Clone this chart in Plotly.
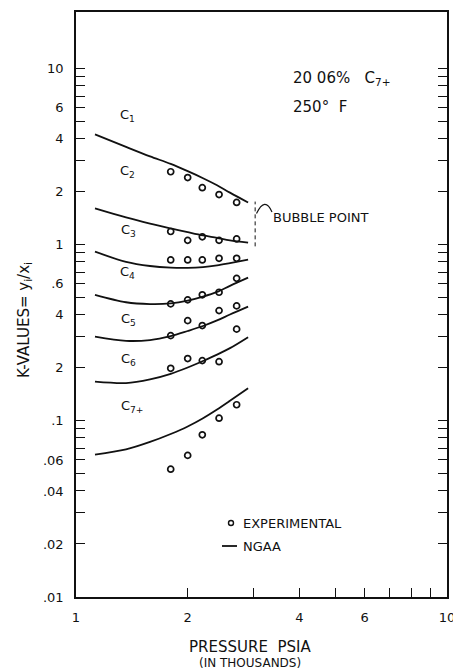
import math
import plotly.graph_objects as go

# ---------------- data ----------------
# NGAA correlation curves, pressure in thousands psia
ngaa_pressure = [1.125, 1.364, 1.583, 1.80, 2.00, 2.20, 2.40, 2.60, 2.91]
ngaa_c1 = [4.24, 3.60, 3.18, 2.88, 2.62, 2.39, 2.18, 1.98, 1.74]
ngaa_c2 = [1.61, 1.43, 1.32, 1.24, 1.18, 1.13, 1.095, 1.06, 1.03]
ngaa_c3 = [0.915, 0.80, 0.758, 0.742, 0.740, 0.748, 0.765, 0.788, 0.824]
ngaa_c4 = [0.520, 0.472, 0.461, 0.465, 0.482, 0.508, 0.540, 0.585, 0.651]
ngaa_c5 = [0.301, 0.285, 0.288, 0.303, 0.324, 0.346, 0.372, 0.402, 0.446]
ngaa_c6 = [0.167, 0.164, 0.172, 0.185, 0.201, 0.219, 0.238, 0.259, 0.299]
ngaa_c7 = [0.0643, 0.0689, 0.0760, 0.0843, 0.0930, 0.1036, 0.1161, 0.1301, 0.1534]

# Experimental K-values
exp_pressure = [1.80, 2.00, 2.19, 2.43, 2.71]
exp_c1 = [2.60, 2.41, 2.11, 1.93, 1.74]
exp_c2 = [1.19, 1.06, 1.11, 1.06, 1.08]
exp_c3 = [0.821, 0.821, 0.821, 0.838, 0.838]
exp_c4 = [0.462, 0.487, 0.520, 0.538, 0.645]
exp_c5 = [0.305, 0.371, 0.348, 0.423, 0.450]
exp_c6 = [0.199, 0.226, 0.220, 0.217, 0.332]
exp_c7 = [0.0532, 0.0637, 0.0834, 0.1036, 0.1235]

component_labels = ["C<sub>1</sub>", "C<sub>2</sub>", "C<sub>3</sub>", "C<sub>4</sub>",
                    "C<sub>5</sub>", "C<sub>6</sub>", "C<sub>7+</sub>"]

bubble_point_pressure = 3.04
bubble_point_k_range = [0.98, 1.76]

x_tick_values = [1, 2, 4, 6, 10]
x_tick_labels = ["1", "2", "4", "6", "10"]
x_minor_ticks = [3, 5, 7, 8, 9]

y_tick_values = [0.01, 0.02, 0.04, 0.06, 0.1, 0.2, 0.4, 0.6, 1, 2, 4, 6, 10]
y_tick_labels = [".01", ".02", ".04", ".06", ".1", "2", "4", ".6", "1", "2", "4", "6", "10"]
y_minor_ticks = [0.03, 0.05, 0.07, 0.08, 0.09, 0.3, 0.5, 0.7, 0.8, 0.9,
                 3, 5, 7, 8, 9]

# ---------------- layout geometry ----------------
W, H = 453, 670
ML, MR, MT, MB = 76, 6, 12, 73
PW, PH = W - ML - MR, H - MT - MB
FONT = "DejaVu Sans"
INK = "#111111"


def paper(xp, yp):
    return (xp - ML) / PW, (H - MB - yp) / PH


fig = go.Figure()

ngaa_series = [ngaa_c1, ngaa_c2, ngaa_c3, ngaa_c4, ngaa_c5, ngaa_c6, ngaa_c7]
exp_series = [exp_c1, exp_c2, exp_c3, exp_c4, exp_c5, exp_c6, exp_c7]

for name, ys in zip(component_labels, ngaa_series):
    fig.add_trace(go.Scatter(x=ngaa_pressure, y=ys, mode="lines",
                             line=dict(color=INK, width=1.8, shape="spline", smoothing=0.9),
                             name="NGAA " + name, showlegend=False, hoverinfo="skip"))

for name, ys in zip(component_labels, exp_series):
    fig.add_trace(go.Scatter(x=exp_pressure, y=ys, mode="markers",
                             marker=dict(symbol="circle-open", size=6, color=INK,
                                         line=dict(width=1.7, color=INK)),
                             name="Experimental " + name, showlegend=False))

fig.add_trace(go.Scatter(x=[bubble_point_pressure, bubble_point_pressure],
                         y=bubble_point_k_range, mode="lines",
                         line=dict(color=INK, width=1, dash="4px,3px"),
                         showlegend=False, hoverinfo="skip"))

annotations = []

# component labels
label_pos = [(118, 115), (118, 171), (119, 230), (118, 272), (119, 319), (119, 359), (119, 406)]
for txt, (xp, yp) in zip(component_labels, label_pos):
    px_, py_ = paper(xp, yp)
    annotations.append(dict(x=px_, y=py_, xref="paper", yref="paper", text=txt,
                            showarrow=False, xanchor="left", yanchor="middle",
                            font=dict(family=FONT, size=13, color=INK)))

# header text
px_, py_ = paper(291, 78)
annotations.append(dict(x=px_, y=py_, xref="paper", yref="paper",
                        text="20 06%\u00a0\u00a0 C<sub>7+</sub>", showarrow=False,
                        xanchor="left", yanchor="middle",
                        font=dict(family=FONT, size=15, color=INK)))
px_, py_ = paper(291, 107)
annotations.append(dict(x=px_, y=py_, xref="paper", yref="paper",
                        text="250°\u00a0\u00a0F", showarrow=False,
                        xanchor="left", yanchor="middle",
                        font=dict(family=FONT, size=15, color=INK)))

# bubble point label
px_, py_ = paper(271, 218)
annotations.append(dict(x=px_, y=py_, xref="paper", yref="paper",
                        text="BUBBLE POINT", showarrow=False,
                        xanchor="left", yanchor="middle",
                        font=dict(family=FONT, size=13, color=INK)))

# legend texts
px_, py_ = paper(241, 523)
annotations.append(dict(x=px_, y=py_, xref="paper", yref="paper",
                        text="EXPERIMENTAL", showarrow=False,
                        xanchor="left", yanchor="middle",
                        font=dict(family=FONT, size=13, color=INK)))
px_, py_ = paper(241, 546)
annotations.append(dict(x=px_, y=py_, xref="paper", yref="paper",
                        text="NGAA", showarrow=False,
                        xanchor="left", yanchor="middle",
                        font=dict(family=FONT, size=13, color=INK)))

# axis titles
px_, py_ = paper(250, 647)
annotations.append(dict(x=px_, y=py_, xref="paper", yref="paper",
                        text="PRESSURE  PSIA", showarrow=False,
                        xanchor="center", yanchor="middle",
                        font=dict(family=FONT, size=15, color=INK)))
px_, py_ = paper(250, 663)
annotations.append(dict(x=px_, y=py_, xref="paper", yref="paper",
                        text="(IN THOUSANDS)", showarrow=False,
                        xanchor="center", yanchor="middle",
                        font=dict(family=FONT, size=12, color=INK)))
px_, py_ = paper(24, 320)
annotations.append(dict(x=px_, y=py_, xref="paper", yref="paper",
                        text="K-VALUES= y<sub>i</sub>/x<sub>i</sub>", showarrow=False,
                        textangle=-90, xanchor="center", yanchor="middle",
                        font=dict(family=FONT, size=15, color=INK)))

shapes = []
# bubble point hook
a = paper(256.5, 213.5)
c = paper(265, 196)
b = paper(272, 212)
shapes.append(dict(type="path", xref="paper", yref="paper",
                   path=f"M {a[0]},{a[1]} Q {c[0]},{c[1]} {b[0]},{b[1]}",
                   line=dict(color=INK, width=1.2)))
# legend symbols
c0 = paper(228.5, 525.5)
c1 = paper(233.5, 520.5)
shapes.append(dict(type="circle", xref="paper", yref="paper",
                   x0=c0[0], y0=c0[1], x1=c1[0], y1=c1[1],
                   line=dict(color=INK, width=1.4)))
l0 = paper(222, 546)
l1 = paper(237, 546)
shapes.append(dict(type="line", xref="paper", yref="paper",
                   x0=l0[0], y0=l0[1], x1=l1[0], y1=l1[1],
                   line=dict(color=INK, width=1.8)))

fig.update_layout(
    width=W, height=H,
    margin=dict(l=ML, r=MR, t=MT, b=MB, autoexpand=False),
    paper_bgcolor="white", plot_bgcolor="white",
    font=dict(family=FONT, size=13, color=INK),
    showlegend=False,
    annotations=annotations,
    shapes=shapes,
)

minor_style = dict(ticks="inside", ticklen=9, tickwidth=1.3, tickcolor=INK, showgrid=False)

fig.update_xaxes(type="log", range=[0, 1], tickvals=x_tick_values, ticktext=x_tick_labels,
                 ticks="inside", ticklen=9, tickwidth=1.3, tickcolor=INK,
                 minor=dict(tickvals=x_minor_ticks, **minor_style),
                 showline=True, linewidth=1.6, linecolor=INK, mirror=True,
                 showgrid=False, zeroline=False, ticklabelstandoff=8,
                 automargin=False, ticklabeloverflow="allow",
                 tickfont=dict(family=FONT, size=13, color=INK))
fig.update_yaxes(type="log", range=[-2, math.log10(21)], tickvals=y_tick_values,
                 ticktext=y_tick_labels,
                 ticks="inside", ticklen=9, tickwidth=1.3, tickcolor=INK,
                 minor=dict(tickvals=y_minor_ticks, **minor_style),
                 showline=True, linewidth=1.6, linecolor=INK, mirror="ticks",
                 showgrid=False, zeroline=False, ticklabelstandoff=8,
                 automargin=False, ticklabeloverflow="allow",
                 tickfont=dict(family=FONT, size=13, color=INK))

fig.write_html(
    "out.html",
    config={"responsive": False, "displayModeBar": False},
    post_script="document.body.style.margin='0';document.body.style.overflow='hidden';",
)
